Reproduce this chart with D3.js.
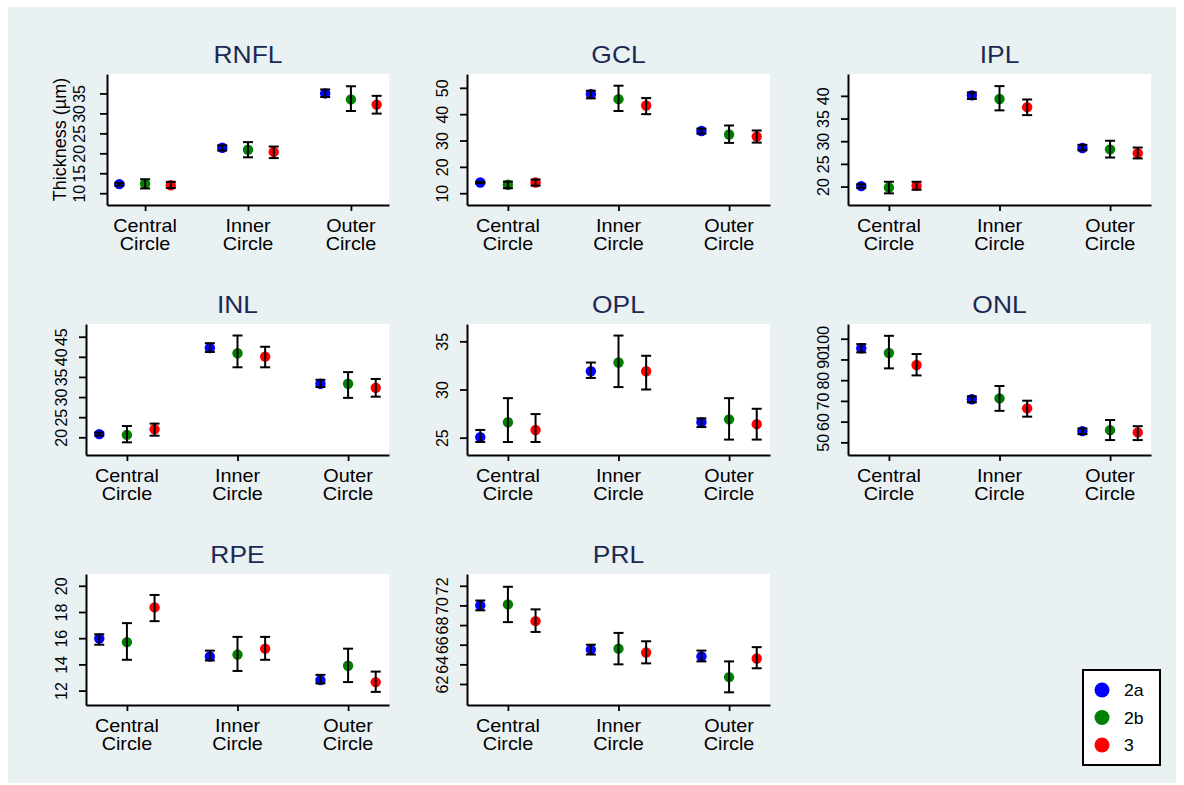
<!DOCTYPE html>
<html><head><meta charset="utf-8">
<script src="https://cdn.jsdelivr.net/npm/d3@7"></script>
<style>
html,body{margin:0;padding:0;background:#fff;}
svg text{font-family:"Liberation Sans",Arial,sans-serif;}
</style></head>
<body><svg id="c" width="1184" height="785"></svg>
<script>
// ---- data ----
const categories = ["Central Circle", "Inner Circle", "Outer Circle"];
const groups = ["2a", "2b", "3"];
const groupColors = ["#0000ff", "#008000", "#ff0000"];
const layers = ["RNFL", "GCL", "IPL", "INL", "OPL", "ONL", "RPE", "PRL"];
// values ordered: Central(2a,2b,3), Inner(2a,2b,3), Outer(2a,2b,3)
const rnflMean = [12.27, 12.4, 12.0, 21.4, 20.9, 20.35, 35.0, 33.5, 32.2];
const rnflLow  = [11.9, 11.2, 11.3, 20.7, 19.0, 18.8, 34.1, 30.6, 29.95];
const rnflHigh = [12.6, 13.5, 12.85, 22.0, 22.8, 21.7, 36.0, 36.8, 34.4];
const gclMean = [14.05, 13.2, 14.05, 47.6, 45.7, 43.3, 33.6, 32.3, 31.5];
const gclLow  = [13.8, 11.9, 12.9, 46.0, 41.2, 40.0, 32.6, 29.1, 29.2];
const gclHigh = [14.3, 14.4, 15.2, 48.9, 50.8, 46.1, 34.5, 35.7, 33.8];
const iplMean = [20.1, 19.8, 20.15, 40.1, 39.3, 37.5, 28.5, 28.2, 27.35];
const iplLow  = [19.7, 18.5, 19.3, 39.3, 36.8, 35.75, 28.0, 26.4, 26.2];
const iplHigh = [20.5, 21.05, 21.05, 40.75, 42.15, 39.2, 29.2, 30.1, 28.6];
const inlMean = [20.8, 20.6, 22.0, 42.2, 40.9, 40.05, 33.3, 33.3, 32.3];
const inlLow  = [20.4, 18.75, 20.4, 41.2, 37.4, 37.4, 32.5, 29.8, 30.1];
const inlHigh = [21.2, 22.8, 23.4, 43.4, 45.3, 42.5, 34.3, 36.2, 34.5];
const oplMean = [25.05, 26.6, 25.8, 31.9, 32.8, 31.9, 26.6, 26.9, 26.4];
const oplLow  = [24.55, 24.55, 24.55, 31.2, 30.25, 30.0, 26.1, 24.8, 24.8];
const oplHigh = [25.8, 29.1, 27.45, 32.8, 35.6, 33.5, 27.0, 29.1, 28.0];
const onlMean = [95.4, 93.1, 87.3, 70.8, 71.2, 66.4, 55.4, 55.9, 54.8];
const onlLow  = [93.4, 85.7, 82.3, 69.3, 65.2, 62.4, 54.0, 51.1, 51.1];
const onlHigh = [97.4, 101.4, 92.6, 72.2, 77.2, 70.1, 56.7, 60.8, 57.8];
const rpeMean = [15.98, 15.7, 18.35, 14.6, 14.75, 15.2, 12.8, 13.9, 12.65];
const rpeLow  = [15.5, 14.35, 17.3, 14.3, 13.5, 14.35, 12.55, 12.65, 11.9];
const rpeHigh = [16.3, 17.15, 19.3, 15.05, 16.1, 16.1, 13.2, 15.2, 13.45];
const prlMean = [70.0, 70.1, 68.4, 65.5, 65.6, 65.2, 64.8, 62.7, 64.6];
const prlLow  = [69.5, 68.3, 67.3, 65.0, 64.0, 64.1, 64.3, 61.15, 63.6];
const prlHigh = [70.5, 71.9, 69.6, 66.0, 67.2, 66.35, 65.4, 64.3, 65.75];
// tick labels
const rnflTicks = [10, 15, 20, 25, 30, 35];
const gclTicks = [10, 20, 30, 40, 50];
const iplTicks = [20, 25, 30, 35, 40];
const inlTicks = [20, 25, 30, 35, 40, 45];
const oplTicks = [25, 30, 35];
const onlTicks = [50, 60, 70, 80, 90, 100];
const rpeTicks = [12, 14, 16, 18, 20];
const prlTicks = [62, 64, 66, 68, 70, 72];
const yTitle = "Thickness (µm)";

// ---- layout ----
const series = [
  {mean: rnflMean, low: rnflLow, high: rnflHigh, ticks: rnflTicks, dom: [7.05, 39.87]},
  {mean: gclMean, low: gclLow, high: gclHigh, ticks: gclTicks, dom: [5.53, 55.24]},
  {mean: iplMean, low: iplLow, high: iplHigh, ticks: iplTicks, dom: [15.93, 44.82]},
  {mean: inlMean, low: inlLow, high: inlHigh, ticks: inlTicks, dom: [15.6, 48.16]},
  {mean: oplMean, low: oplLow, high: oplHigh, ticks: oplTicks, dom: [23.2, 36.8]},
  {mean: onlMean, low: onlLow, high: onlHigh, ticks: onlTicks, dom: [43.9, 107.1]},
  {mean: rpeMean, low: rpeLow, high: rpeHigh, ticks: rpeTicks, dom: [10.9, 20.9]},
  {mean: prlMean, low: prlLow, high: prlHigh, ticks: prlTicks, dom: [59.86, 73.2]}
];
const colLeft = [86, 467, 848], colRight = [389, 770, 1151];
const rowTop = [74, 324, 574], plotH = 131;
const offsets = [-0.25, 0, 0.25];

const svg = d3.select("#c");
svg.append("rect").attr("x", 8).attr("y", 7).attr("width", 1168).attr("height", 776).attr("fill", "#eaf1f3");

layers.forEach((name, i) => {
  const s = series[i];
  const row = Math.floor(i / 3), col = i % 3;
  const left = (i === 0) ? 107 : colLeft[col];
  const right = colRight[col];
  const top = rowTop[row], bottom = top + plotH;
  const x = d3.scaleLinear().domain([0.63, 3.37]).range([left, right]);
  const y = d3.scaleLinear().domain(s.dom).range([bottom, top]);
  const g = svg.append("g");
  g.append("rect").attr("x", left).attr("y", top).attr("width", right - left).attr("height", plotH).attr("fill", "#fff");
  // title
  g.append("text").attr("transform", `translate(${(left + right) / 2},${top - 11.5}) scale(1.1,1)`)
    .attr("text-anchor", "middle").attr("font-size", 24).attr("fill", "#1a2a55").text(name);
  // points
  const pts = [];
  categories.forEach((c, ci) => groups.forEach((gr, gi) => {
    const k = ci * 3 + gi;
    pts.push({x: ci + 1 + offsets[gi], m: s.mean[k], lo: s.low[k], hi: s.high[k], color: groupColors[gi]});
  }));
  g.selectAll("circle.pt").data(pts).join("circle").attr("class", "pt")
    .attr("cx", d => x(d.x)).attr("cy", d => y(d.m)).attr("r", 5.2).attr("fill", d => d.color);
  const eb = g.selectAll("g.eb").data(pts).join("g").attr("class", "eb")
    .attr("stroke", "#000").attr("stroke-width", 2).attr("fill", "none");
  eb.append("line").attr("x1", d => x(d.x)).attr("x2", d => x(d.x)).attr("y1", d => y(d.lo)).attr("y2", d => y(d.hi));
  eb.append("line").attr("x1", d => x(d.x) - 5).attr("x2", d => x(d.x) + 5).attr("y1", d => y(d.lo)).attr("y2", d => y(d.lo));
  eb.append("line").attr("x1", d => x(d.x) - 5).attr("x2", d => x(d.x) + 5).attr("y1", d => y(d.hi)).attr("y2", d => y(d.hi));
  // y axis
  const ya = g.append("g").attr("transform", `translate(${left},0)`)
    .call(d3.axisLeft(y).tickValues(s.ticks).tickSize(7).tickSizeOuter(0).tickFormat(d3.format("d")));
  ya.select(".domain").attr("stroke", "#000").attr("stroke-width", 2);
  ya.selectAll(".tick line").attr("stroke", "#000").attr("stroke-width", 1.8);
  ya.selectAll(".tick text").attr("transform", "rotate(-90)").attr("x", 0).attr("y", i === 0 ? -22 : -19)
    .attr("dy", 0).attr("text-anchor", "middle").attr("font-size", 16).attr("fill", "#000")
    .attr("font-family", "Liberation Sans, Arial, sans-serif");
  // x axis
  const xa = g.append("g").attr("transform", `translate(0,${bottom})`)
    .call(d3.axisBottom(x).tickValues([1, 2, 3]).tickSize(6).tickSizeOuter(0).tickFormat(""));
  xa.select(".domain").attr("stroke", "#000").attr("stroke-width", 2);
  xa.selectAll(".tick line").attr("stroke", "#000").attr("stroke-width", 1.8);
  categories.forEach((c, ci) => {
    const parts = c.split(" ");
    parts.forEach((p, pi) => {
      g.append("text").attr("transform", `translate(${x(ci + 1)},${bottom + 26.5 + pi * 18.5}) scale(1.1,1)`)
        .attr("text-anchor", "middle").attr("font-size", 18).attr("fill", "#000").text(p);
    });
  });
  if (i === 0) {
    g.append("text").attr("transform", `translate(${66},${(top + bottom) / 2}) rotate(-90)`)
      .attr("text-anchor", "middle").attr("font-size", 18).attr("fill", "#000").text(yTitle);
  }
});

// legend
const lg = svg.append("g");
lg.append("rect").attr("x", 1083).attr("y", 670).attr("width", 77).attr("height", 95)
  .attr("fill", "#fff").attr("stroke", "#000").attr("stroke-width", 2);
groups.forEach((gr, gi) => {
  const cy = 690 + gi * 27.5;
  lg.append("circle").attr("cx", 1102).attr("cy", cy).attr("r", 7.5).attr("fill", groupColors[gi]);
  lg.append("text").attr("transform", `translate(1124,${cy + 6}) scale(1.1,1)`)
    .attr("font-size", 16).attr("fill", "#000").text(gr);
});
</script></body></html>
